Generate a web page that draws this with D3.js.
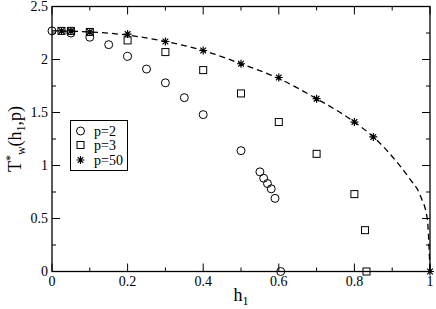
<!DOCTYPE html>
<html>
<head>
<meta charset="utf-8">
<script src="https://cdn.jsdelivr.net/npm/d3@7"></script>
<style>
  body { margin: 0; background: #fff; }
</style>
</head>
<body>
<script>
// Values
let h2 = [0, 0.05, 0.1, 0.15, 0.2, 0.25, 0.3, 0.35, 0.4, 0.5, 0.55, 0.56, 0.57, 0.58, 0.59, 0.605];
let t2 = [2.27, 2.25, 2.21, 2.14, 2.03, 1.91, 1.78, 1.64, 1.48, 1.14, 0.94, 0.88, 0.83, 0.78, 0.69, 0];

let h3 = [0.025, 0.05, 0.1, 0.2, 0.3, 0.4, 0.5, 0.6, 0.7, 0.8, 0.828, 0.832];
let t3 = [2.27, 2.27, 2.26, 2.18, 2.07, 1.90, 1.68, 1.41, 1.11, 0.73, 0.39, 0];

let h50 = [0.025, 0.05, 0.1, 0.2, 0.3, 0.4, 0.5, 0.6, 0.7, 0.8, 0.85, 1.0];
let t50 = [2.27, 2.27, 2.26, 2.24, 2.17, 2.085, 1.96, 1.83, 1.63, 1.41, 1.27, 0];

// dashed curve, points
let hc = [0, 0.1, 0.2, 0.3, 0.4, 0.5, 0.6, 0.7, 0.8, 0.85, 0.9, 0.945, 0.975, 0.993, 1.0];
let tc = [2.27, 2.26, 2.23, 2.17, 2.085, 1.96, 1.82, 1.63, 1.41, 1.27, 1.085, 0.88, 0.71, 0.49, 0];

let xTicks = [0, 0.2, 0.4, 0.6, 0.8, 1];
let yTicks = [0, 0.5, 1, 1.5, 2, 2.5];
let legendLabels = ["p=2", "p=3", "p=50"];

let w = 436, h = 309;
let pLeft = 52, pRight = 430, pTop = 6.5, pBottom = 271.5;
let serif = "'Liberation Serif', 'Times New Roman', 'DejaVu Serif', serif";

let svg = d3.select("body").append("svg")
    .attr("width", w)
    .attr("height", h)
    .attr("font-family", serif);

let x = d3.scaleLinear().domain([0, 1]).range([pLeft, pRight]);
let y = d3.scaleLinear().domain([0, 2.5]).range([pBottom, pTop]);

// ticks (inward, all four sides)
function ticks(axis, vals, len) {
    vals.forEach(function(v) {
        if (axis === "x") {
            svg.append("line").attr("x1", x(v)).attr("x2", x(v)).attr("y1", pBottom).attr("y2", pBottom - len).attr("stroke", "#000");
            svg.append("line").attr("x1", x(v)).attr("x2", x(v)).attr("y1", pTop).attr("y2", pTop + len).attr("stroke", "#000");
        } else {
            svg.append("line").attr("y1", y(v)).attr("y2", y(v)).attr("x1", pLeft).attr("x2", pLeft + len).attr("stroke", "#000");
            svg.append("line").attr("y1", y(v)).attr("y2", y(v)).attr("x1", pRight).attr("x2", pRight - len).attr("stroke", "#000");
        }
    });
}
ticks("x", xTicks, 8);
ticks("x", d3.range(0.1, 1, 0.2), 4);
ticks("y", yTicks, 8);
ticks("y", d3.range(0.25, 2.5, 0.5), 4);

// tick labels
svg.selectAll(".xl").data(xTicks).enter().append("text")
    .attr("x", d => x(d)).attr("y", pBottom + 14)
    .attr("text-anchor", "middle").style("font-size", "14px").style("font-family", serif)
    .text(d => d);
svg.selectAll(".yl").data(yTicks).enter().append("text")
    .attr("x", pLeft - 4).attr("y", d => y(d) + 4)
    .attr("text-anchor", "end").style("font-size", "14px").style("font-family", serif)
    .text(d => d);

// axis titles
let xt = svg.append("text").attr("x", 241).attr("y", 301)
    .attr("text-anchor", "middle").style("font-size", "18px").style("font-family", serif);
xt.append("tspan").text("h");
xt.append("tspan").attr("dy", 4).style("font-size", "12px").text("1");

let yt = svg.append("text").attr("transform", "translate(21,139) rotate(-90)")
    .attr("text-anchor", "middle").style("font-size", "18px").style("font-family", serif);
yt.append("tspan").text("T");
yt.append("tspan").attr("dy", -7).style("font-size", "12px").text("*");
yt.append("tspan").attr("dy", 11).style("font-size", "12px").text("w");
yt.append("tspan").attr("dy", -4).text("(h");
yt.append("tspan").attr("dy", 4).style("font-size", "12px").text("1");
yt.append("tspan").attr("dy", -4).text(",p)");

// dashed curve
let line = d3.line().x(d => x(d[0])).y(d => y(d[1])).curve(d3.curveMonotoneX);
svg.append("path")
    .datum(d3.zip(hc, tc))
    .attr("d", line)
    .attr("fill", "none").attr("stroke", "#000")
    .attr("stroke-width", 1.3).attr("stroke-dasharray", "6,4");

// frame
svg.append("rect").attr("x", pLeft).attr("y", pTop)
    .attr("width", pRight - pLeft).attr("height", pBottom - pTop)
    .attr("fill", "none").attr("stroke", "#000").attr("stroke-width", 1.3);

// markers
function starPath(cx, cy, r) {
    let p = "";
    for (let k = 0; k < 4; k++) {
        let a = k * Math.PI / 4;
        let dx = r * Math.cos(a), dy = r * Math.sin(a);
        p += "M" + (cx - dx) + "," + (cy - dy) + "L" + (cx + dx) + "," + (cy + dy);
    }
    return p;
}
function circle(g, cx, cy) {
    g.append("circle").attr("cx", cx).attr("cy", cy).attr("r", 4)
        .attr("fill", "none").attr("stroke", "#000").attr("stroke-width", 1);
}
function square(g, cx, cy) {
    g.append("rect").attr("x", cx - 3.5).attr("y", cy - 3.5).attr("width", 7).attr("height", 7)
        .attr("fill", "none").attr("stroke", "#000").attr("stroke-width", 1);
}
function star(g, cx, cy) {
    g.append("path").attr("d", starPath(cx, cy, 4))
        .attr("stroke", "#000").attr("stroke-width", 1.2);
}

let g = svg.append("g");
d3.zip(h2, t2).forEach(d => circle(g, x(d[0]), y(d[1])));
d3.zip(h3, t3).forEach(d => square(g, x(d[0]), y(d[1])));
d3.zip(h50, t50).forEach(d => star(g, x(d[0]), y(d[1])));

// legend
svg.append("rect").attr("x", 70.5).attr("y", 120.5).attr("width", 57).attr("height", 50)
    .attr("fill", "#fff").attr("stroke", "#000").attr("stroke-width", 1);
let markers = [circle, square, star];
let rows = [131, 145, 160];
legendLabels.forEach(function(lab, i) {
    markers[i](svg, 80.5, rows[i]);
    svg.append("text").attr("x", 94).attr("y", rows[i] + 4.5)
        .style("font-size", "14px").style("font-family", serif).text(lab);
});
</script>
</body>
</html>
